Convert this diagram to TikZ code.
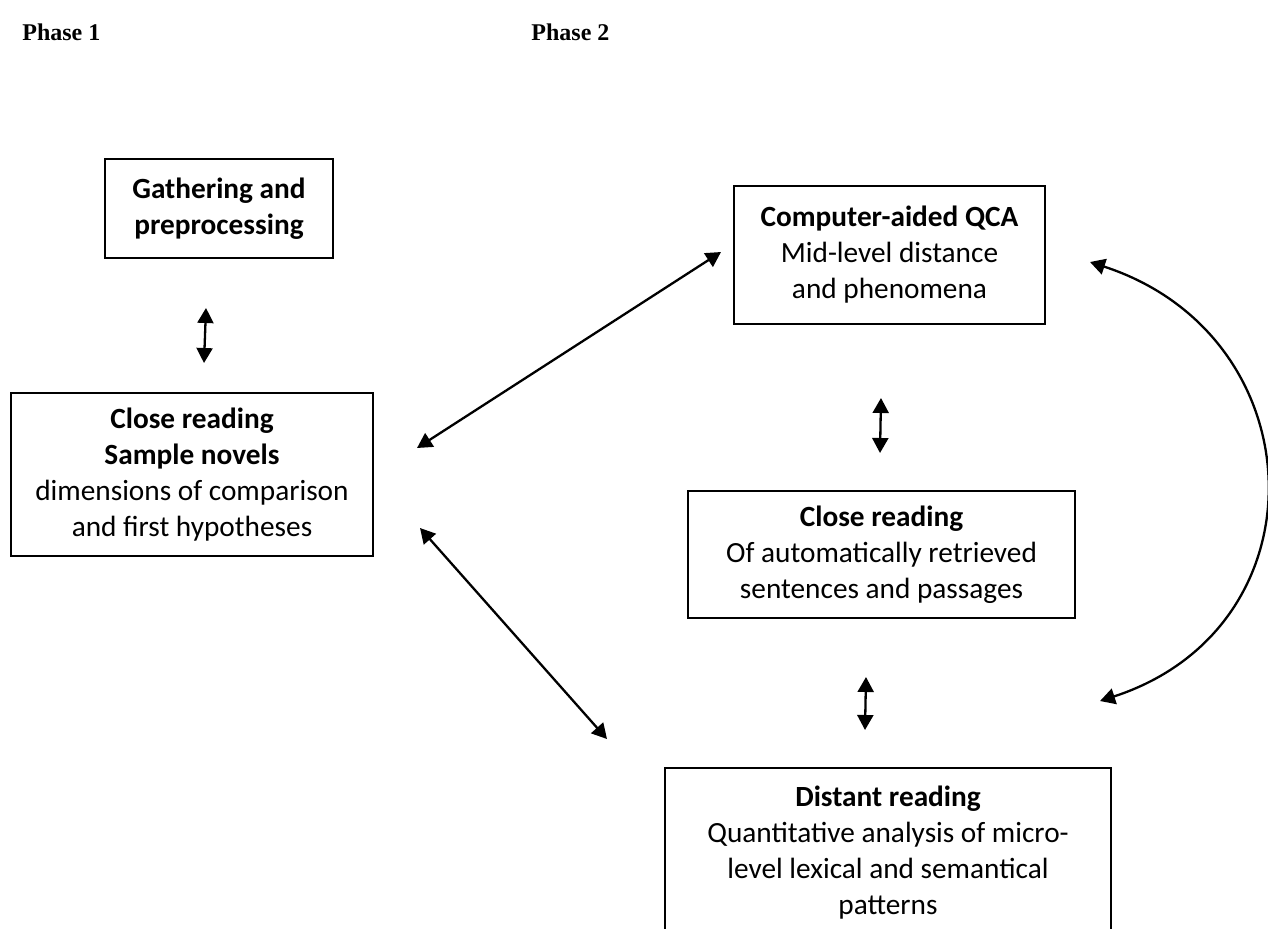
\documentclass[tikz,border=0pt]{standalone}
\usepackage{fontspec}
\setmainfont{Carlito}
\newfontfamily\phasefont{Liberation Serif}
\usetikzlibrary{arrows.meta,calc}
\tikzset{
	stage/.style={draw, line width=1.35pt, align=center, inner sep=0pt, font=\fontsize{14.65}{18}\selectfont},
	phase/.style={anchor=base west, inner sep=0pt, font=\phasefont\bfseries\fontsize{12}{14}\selectfont},
	link/.style={line width=1.15pt, {Triangle[length=7.5pt,width=8pt]}-{Triangle[length=7.5pt,width=8pt]}}
}

\begin{document}
\begin{tikzpicture}[x=0.5pt, y=-0.5pt]
			%%%%% START %%%%%
			\useasboundingbox (0,0) rectangle (1268,928);
			\clip (0,0) rectangle (1268,928);
			
			\node[phase] (phaseone) at (22,40) {Phase 1};
			\node[phase] (phasetwo) at (531,40) {Phase 2};
			
			\node[stage, minimum width=114pt, minimum height=49.5pt] (gather) at (219,208.5) {\textbf{Gathering and}\\\textbf{preprocessing}};
			\node[stage, minimum width=181pt, minimum height=81.5pt] (closeone) at (192,474.5) {\textbf{Close reading}\\\textbf{Sample novels}\\dimensions of comparison\\and first hypotheses};
			\node[stage, minimum width=155.5pt, minimum height=69pt] (qca) at (889.5,255) {\textbf{Computer-aided QCA}\\Mid-level distance\\and phenomena};
			\node[stage, minimum width=193.5pt, minimum height=63.5pt] (closetwo) at (881.5,554.5) {\textbf{Close reading}\\Of automatically retrieved\\sentences and passages};
			\node[stage, minimum width=223pt, minimum height=85pt] (distant) at (888,853) {\textbf{Distant reading}\\Quantitative analysis of micro-\\level lexical and semantical\\patterns};
			
			% free arrow ends
			\coordinate (gtop) at (206,308);
			\coordinate (gbot) at (204,363);
			\coordinate (qtop) at (881,398);
			\coordinate (qbot) at (880,453);
			\coordinate (ctop) at (866,677);
			\coordinate (cbot) at (865,730);
			\coordinate (upleft) at (417,448);
			\coordinate (upright) at (721,252);
			\coordinate (lowleft) at (420,528);
			\coordinate (lowright) at (607,739);
			\coordinate (arctop) at (1090,262);
			\coordinate (arcbot) at (1100,701);
			
			\draw[link] (gtop) -- (gbot);
			\draw[link] (qtop) -- (qbot);
			\draw[link] (ctop) -- (cbot);
			\draw[link] (upleft) -- (upright);
			\draw[link] (lowleft) -- (lowright);
			\draw[link] (arctop) .. controls (1317,336) and (1327,627) .. (arcbot);
			
			%%%%% END %%%%%
\end{tikzpicture}
\end{document}
